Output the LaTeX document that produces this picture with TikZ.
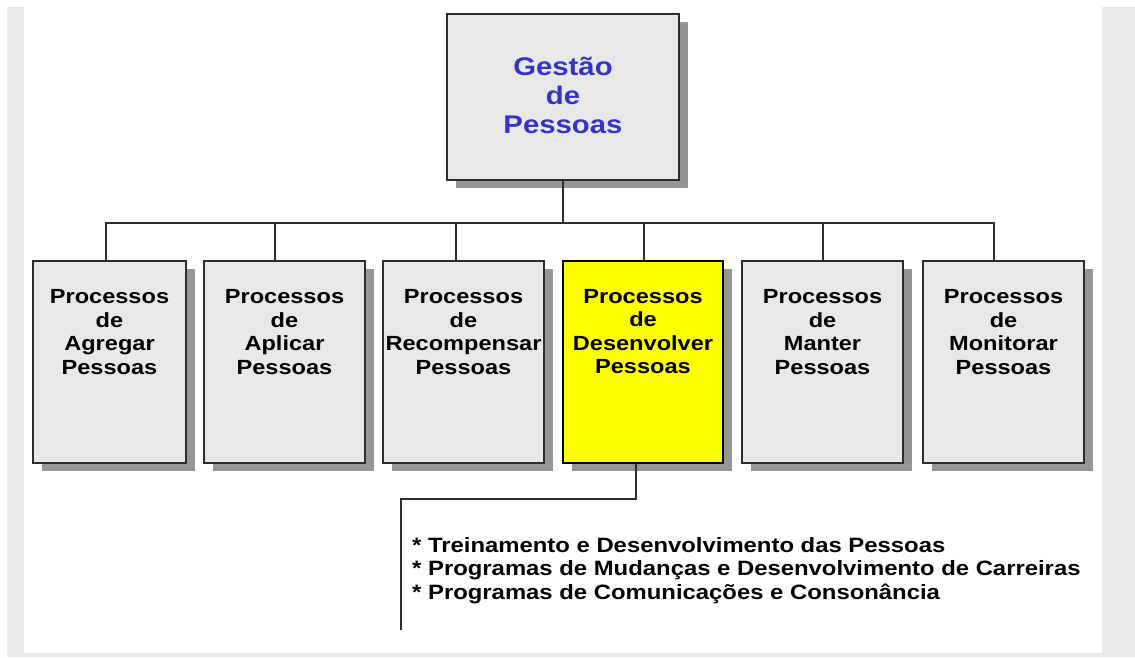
\documentclass[tikz,border=0pt]{standalone}
\usepackage{fontspec}
\setmainfont{Liberation Sans}
\newfontfamily\FonteLarga{Liberation Sans}[FakeStretch=1.15]
\usepackage{tikz}
\usetikzlibrary{shadows}
\usepackage{xcolor}
\definecolor{ColFundo}{RGB}{232,234,234}
\definecolor{ColCaixa}{RGB}{232,232,232}
\definecolor{ColSombra}{RGB}{150,150,150}
\definecolor{ColBorda}{RGB}{45,45,45}
\definecolor{ColTitulo}{RGB}{51,51,204}
\definecolor{ColDestaque}{RGB}{255,255,0}
\tikzstyle{CaixaProc}=[rectangle,draw=ColBorda,fill=ColCaixa,line width=1.5pt,
minimum width=161pt,minimum height=202pt,inner sep=0pt,
drop shadow={shadow xshift=9pt,shadow yshift=-8pt,opacity=1,fill=ColSombra}]
\tikzstyle{CaixaDestaque}=[CaixaProc,fill=ColDestaque,draw=black,line width=2.5pt]
\tikzstyle{TextoProc}=[font={\FonteLarga\bfseries\fontsize{20.5}{23.5}\selectfont},
align=center,anchor=north,inner sep=0pt,yshift=-29pt]
\tikzstyle{TextoTitulo}=[TextoProc,text=ColTitulo,
font={\FonteLarga\bfseries\fontsize{25.5}{29}\selectfont},yshift=-15pt]
\tikzstyle{TextoLista}=[font={\FonteLarga\bfseries\fontsize{20.75}{23.5}\selectfont},
align=left,anchor=north west,inner sep=0pt]
\tikzstyle{LinhaOrg}=[ColBorda,line width=1.5pt]

\begin{document}
\begin{tikzpicture}[x=1pt,y=-1pt]
        \useasboundingbox (0,0) rectangle (1135,657);
        \fill[ColFundo] (7,7) rectangle (1135,657);
        \fill[white] (24,0) rectangle (1102,653);
        \node[CaixaProc,minimum width=232pt,minimum height=166pt,
            label={[TextoTitulo]north:Gestão\\de\\Pessoas}](gestao)at(563,97){};
        \node[CaixaProc,minimum width=153pt,
            label={[TextoProc]north:Processos\\de\\Agregar\\Pessoas}](agregar)at(109.5,362){};
        \node[CaixaProc,
            label={[TextoProc]north:Processos\\de\\Aplicar\\Pessoas}](aplicar)at(284.5,362){};
        \node[CaixaProc,
            label={[TextoProc]north:Processos\\de\\Recompensar\\Pessoas}](recompensar)at(463.5,362){};
        \node[CaixaDestaque,minimum width=160pt,
            label={[TextoProc]north:Processos\\de\\Desenvolver\\Pessoas}](desenvolver)at(643,362){};
        \node[CaixaProc,
            label={[TextoProc]north:Processos\\de\\Manter\\Pessoas}](manter)at(822.5,362){};
        \node[CaixaProc,
            label={[TextoProc]north:Processos\\de\\Monitorar\\Pessoas}](monitorar)at(1003.5,362){};
        \node[TextoLista](lista)at(412,537){* Treinamento e Desenvolvimento das Pessoas\\
            * Programas de Mudanças e Desenvolvimento de Carreiras\\
            * Programas de Comunicações e Consonância};
        \coordinate(barra)at(563,223);
        \coordinate(canto)at(401,499);
        \coordinate(fimLinha)at(401,630);
        \draw[LinhaOrg](gestao.south)--(barra);
        \draw[LinhaOrg]([xshift=-3.5pt]agregar.north)|-(barra);
        \draw[LinhaOrg]([xshift=-9.5pt]aplicar.north)|-(barra);
        \draw[LinhaOrg]([xshift=-7.5pt]recompensar.north)|-(barra);
        \draw[LinhaOrg]([xshift=1pt]desenvolver.north)|-(barra);
        \draw[LinhaOrg]([xshift=0.5pt]manter.north)|-(barra);
        \draw[LinhaOrg]([xshift=-9.5pt]monitorar.north)|-(barra);
        \draw[LinhaOrg]([xshift=-7pt]desenvolver.south)|-(canto)--(fimLinha);
    \end{tikzpicture}
\end{document}
